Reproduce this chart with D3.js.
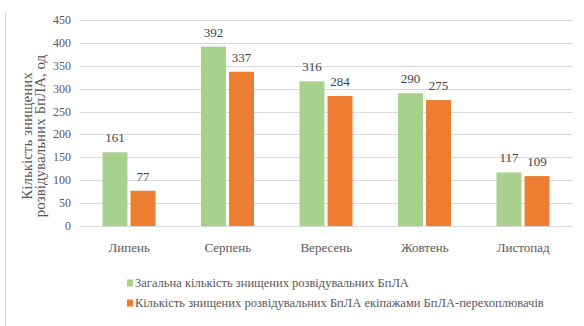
<!DOCTYPE html>
<html>
<head>
<meta charset="utf-8">
<script src="https://cdn.jsdelivr.net/npm/d3@7"></script>
<style>
  body { margin: 0; background: #fff; }
</style>
</head>
<body>
<svg id="chart" width="584" height="326"></svg>
<script>
// Chart data
const months = ["Липень", "Серпень", "Вересень", "Жовтень", "Листопад"];
const totalDestroyed = [161, 392, 316, 290, 117];
const interceptorDestroyed = [77, 337, 284, 275, 109];
const seriesNames = [
  "Загальна кількість знищених  розвідувальних БпЛА",
  "Кількість знищених розвідувальних БпЛА екіпажами БпЛА-перехоплювачів"
];
const yTicks = [0, 50, 100, 150, 200, 250, 300, 350, 400, 450];
const colors = ["#a9d18e", "#ed7d31"];
const FONT = '"Times New Roman", "Liberation Serif", serif';

const svg = d3.select("#chart").style("font-family", FONT);

// frame line on the left
svg.append("line")
  .attr("x1", 5.5).attr("x2", 5.5)
  .attr("y1", 12).attr("y2", 326)
  .attr("stroke", "#d9d9d9");

// Scales
const x = d3.scaleBand().domain(months).range([80, 572.5]);
const xSub = d3.scaleBand().domain([0, 1]).range([22.5, 75.5]).paddingInner(0.11);
const y = d3.scaleLinear().domain([0, 450]).range([226, 20]);

// Gridlines
svg.append("g")
  .selectAll("line")
  .data(yTicks)
  .enter()
  .append("line")
  .attr("x1", 80).attr("x2", 572.5)
  .attr("y1", d => Math.round(y(d)) + 0.5)
  .attr("y2", d => Math.round(y(d)) + 0.5)
  .attr("stroke", "#d9d9d9")
  .attr("stroke-width", 1.2);

// Y tick labels
svg.append("g")
  .selectAll("text")
  .data(yTicks)
  .enter()
  .append("text")
  .attr("x", 71)
  .attr("y", d => y(d) + 4)
  .attr("text-anchor", "end")
  .attr("fill", "#595959")
  .style("font-size", "12px")
  .style("font-family", FONT)
  .text(d => String(d));

// flat list of bars: one per month and series
const bars = [];
months.forEach((m, i) => {
  bars.push({ month: m, s: 0, v: totalDestroyed[i] });
  bars.push({ month: m, s: 1, v: interceptorDestroyed[i] });
});

svg.append("g")
  .selectAll("rect")
  .data(bars)
  .enter()
  .append("rect")
  .attr("x", d => x(d.month) + xSub(d.s))
  .attr("y", d => y(d.v))
  .attr("width", xSub.bandwidth())
  .attr("height", d => y(0) - y(d.v))
  .attr("fill", d => colors[d.s]);

// value labels
svg.append("g")
  .selectAll("text")
  .data(bars)
  .enter()
  .append("text")
  .attr("x", d => x(d.month) + xSub(d.s) + xSub.bandwidth() / 2)
  .attr("y", d => y(d.v) - 10)
  .attr("text-anchor", "middle")
  .attr("fill", "#404040")
  .style("font-size", "13px")
  .style("font-family", FONT)
  .text(d => String(d.v));

// Category labels
svg.append("g")
  .selectAll("text")
  .data(months)
  .enter()
  .append("text")
  .attr("x", d => x(d) + x.bandwidth() / 2)
  .attr("y", 252)
  .attr("text-anchor", "middle")
  .attr("fill", "#595959")
  .style("font-size", "13px")
  .style("font-family", FONT)
  .text(d => d);

// Y axis title (two lines)
const titleLines = ["Кількість знищених", "розвідувальних БпЛА, од"];
svg.append("g")
  .selectAll("text")
  .data(titleLines)
  .enter()
  .append("text")
  .attr("transform", (d, i) => `translate(${32 + i * 13},136) rotate(-90)`)
  .attr("text-anchor", "middle")
  .attr("fill", "#595959")
  .style("font-size", "15px")
  .style("font-family", FONT)
  .text(d => d);

// Legend
const legend = svg.append("g")
  .selectAll("g")
  .data(seriesNames)
  .enter()
  .append("g")
  .attr("transform", (d, i) => `translate(127,${283 + i * 20})`);

legend.append("rect")
  .attr("x", 0).attr("y", -3.5)
  .attr("width", 6).attr("height", 7)
  .attr("fill", (d, i) => colors[i]);

legend.append("text")
  .attr("x", 8)
  .attr("y", 4)
  .attr("fill", "#595959")
  .style("font-size", "12.5px")
  .style("font-family", FONT)
  .text(d => d);
</script>
</body>
</html>
